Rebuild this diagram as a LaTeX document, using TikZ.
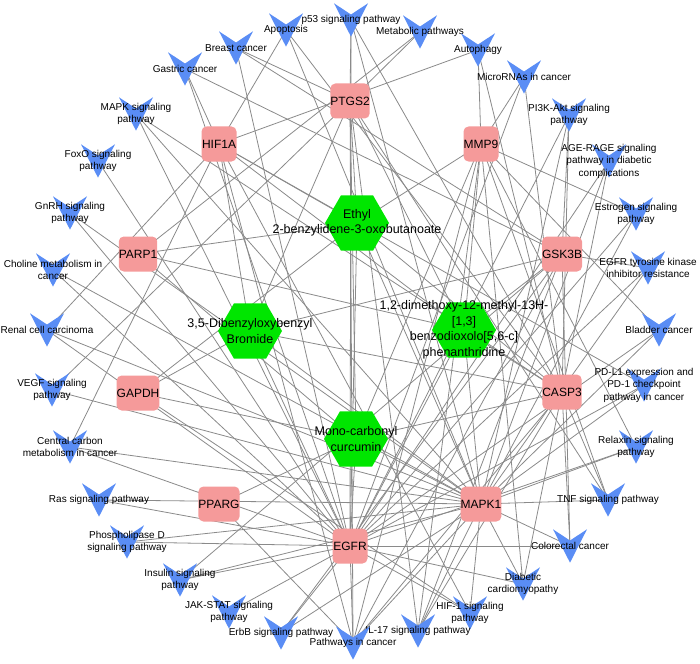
\documentclass[tikz,border=0pt]{standalone}
\usepackage{fontspec}
\setmainfont{Liberation Sans}
\usepackage{xcolor}
\definecolor{targetpink}{HTML}{F59A9A}
\definecolor{druggreen}{HTML}{00E600}
\definecolor{pathblue}{HTML}{5A8DF5}
\definecolor{edgegray}{HTML}{8A8A8A}
\usetikzlibrary{positioning}
\pgfdeclarelayer{background}
\pgfsetlayers{background,main}
\tikzset{
  target/.style={fill=targetpink,rounded corners=5pt,minimum size=35pt,inner sep=0pt,font=\fontsize{12}{14}\selectfont},
  druglabel/.style={align=center,inner sep=0pt,font=\fontsize{12.5}{15.5}\selectfont},
  pwlabel/.style={align=center,inner sep=0pt,font=\fontsize{10}{12.5}\selectfont},
  vshape/.style={fill=pathblue},
  hexshape/.style={fill=druggreen},
  link/.style={draw=edgegray,line width=0.8pt},
}

\begin{document}
\begin{tikzpicture}[x=1pt,y=-1pt]
  \useasboundingbox (0,0) rectangle (700,663);
  % Targets
  \foreach \n/\x/\y in {PTGS2/350/101, HIF1A/219/144, MMP9/481/144, PARP1/138/254, GSK3B/562/254,
                        GAPDH/138/393, CASP3/562/392, PPARG/219/504, MAPK1/481/504, EGFR/350/546}
    \node[target] (\n) at (\x,\y) {\n};
  % Compounds
  \foreach \n/\x/\y/\t in {c1/357/223/{Ethyl\\2-benzylidene-3-oxobutanoate},
                           c2/250/331/{3,5-Dibenzyloxybenzyl\\Bromide},
                           c3/464/330/{1,2-dimethoxy-12-methyl-13H-\\{[1,3]}\\benzodioxolo{[5,6-c]}\\phenanthridine},
                           c4/356/439/{Mono-carbonyl\\curcumin}} {
    \fill[hexshape,shift={(\x,\y)}] (-32,0) -- (-16,-27.7) -- (16,-27.7) -- (32,0) -- (16,27.7) -- (-16,27.7) -- cycle;
    \node[druglabel] (\n) at (\x,\y) {\t};
  }
  % Pathways
  \foreach \n/\x/\y/\t in {p53/351/20/{p53 signaling pathway}, metab/420/32/{Metabolic pathways},
      autoph/478/50/{Autophagy}, mirna/524/77/{MicroRNAs in cancer},
      pi3k/569/115/{PI3K-Akt signaling\\pathway},
      agerage/609/161/{AGE-RAGE signaling\\pathway in diabetic\\complications},
      estro/636/214/{Estrogen signaling\\pathway}, egfrtki/648/268/{EGFR tyrosine kinase\\inhibitor resistance},
      bladder/659/330/{Bladder cancer}, pdl1/644/385/{PD-L1 expression and\\PD-1 checkpoint\\pathway in cancer},
      relax/636/447/{Relaxin signaling\\pathway}, tnf/608/500/{TNF signaling pathway},
      colo/570/546/{Colorectal cancer}, diacard/523/584/{Diabetic\\cardiomyopathy},
      hif1/470/613/{HIF-1 signaling\\pathway}, il17/418/631/{IL-17 signaling pathway},
      pathca/353/643/{Pathways in cancer}, erbb/281/633/{ErbB signaling pathway},
      jak/229/612/{JAK-STAT signaling\\pathway}, insulin/180/580/{Insulin signaling\\pathway},
      pld/127/542/{Phospholipase D\\signaling pathway}, ras/99/500/{Ras signaling pathway},
      ccm/70/447/{Central carbon\\metabolism in cancer}, vegf/52/390/{VEGF signaling\\pathway},
      renal/47/330/{Renal cell carcinoma}, choline/53/270/{Choline metabolism in\\cancer},
      gnrh/70/213/{GnRH signaling\\pathway}, foxo/98/161/{FoxO signaling\\pathway},
      mapksig/136/114/{MAPK signaling\\pathway}, gastric/185/69/{Gastric cancer},
      breast/236/48/{Breast cancer}, apopt/286/30/{Apoptosis}} {
    \fill[vshape,shift={(\x,\y)}] (-17,-16.7) -- (0,-5.5) -- (17,-16.7) -- (0,16.7) -- cycle;
    \node[pwlabel] (\n) at (\x,\y) {\t};
  }
  % Links
  \begin{pgfonlayer}{background}
    \foreach \a/\b in {c1/PTGS2, c1/HIF1A, c1/PARP1, c1/GAPDH, c1/MMP9, c1/CASP3, c1/MAPK1, c1/EGFR,
        c2/HIF1A, c2/PTGS2, c2/GAPDH, c2/CASP3, c2/MAPK1, c2/EGFR, c2/GSK3B,
        c3/PARP1, c3/PTGS2, c3/MMP9, c3/GSK3B, c3/CASP3, c3/MAPK1, c3/EGFR, c3/HIF1A,
        c4/PPARG, c4/EGFR, c4/PARP1, c4/GAPDH, c4/MAPK1, c4/CASP3, c4/MMP9, c4/PTGS2}
      \draw[link] (\a.center) -- (\b.center);
    \foreach \a/\b in {p53/CASP3, p53/MAPK1, p53/EGFR, p53/PTGS2, metab/PTGS2, metab/PARP1,
        autoph/MMP9, autoph/HIF1A, autoph/CASP3, mirna/MMP9, mirna/EGFR, mirna/CASP3,
        pi3k/CASP3, pi3k/MAPK1, pi3k/EGFR, pi3k/GSK3B, agerage/MAPK1, agerage/CASP3, agerage/EGFR,
        estro/MMP9, estro/EGFR, estro/MAPK1, egfrtki/EGFR, egfrtki/MAPK1, egfrtki/GSK3B,
        bladder/EGFR, bladder/MAPK1, bladder/MMP9, pdl1/EGFR, pdl1/MAPK1, pdl1/HIF1A,
        relax/MAPK1, relax/EGFR, relax/MMP9, tnf/MAPK1, tnf/CASP3, tnf/MMP9, tnf/PTGS2,
        colo/EGFR, colo/MAPK1, colo/CASP3, colo/GSK3B, diacard/MAPK1, diacard/EGFR, diacard/CASP3, diacard/MMP9,
        hif1/EGFR, hif1/MAPK1, hif1/HIF1A, hif1/GAPDH, il17/MAPK1, il17/CASP3, il17/GSK3B, il17/PTGS2, il17/MMP9,
        pathca/EGFR, pathca/PTGS2, pathca/MMP9, pathca/CASP3, pathca/MAPK1, pathca/HIF1A, pathca/PPARG, pathca/GSK3B,
        erbb/EGFR, erbb/MAPK1, erbb/GSK3B, jak/EGFR, insulin/EGFR, insulin/MAPK1, insulin/GSK3B,
        pld/EGFR, pld/MAPK1, ras/EGFR, ras/MAPK1, ccm/HIF1A, ccm/EGFR, ccm/MAPK1, vegf/PTGS2, vegf/MAPK1,
        renal/HIF1A, renal/MAPK1, renal/EGFR, choline/MAPK1, choline/EGFR, gnrh/MAPK1, gnrh/EGFR, foxo/EGFR,
        mapksig/CASP3, mapksig/EGFR, mapksig/MAPK1, gastric/HIF1A, gastric/GSK3B, gastric/EGFR,
        breast/PTGS2, breast/EGFR, breast/GSK3B, apopt/HIF1A, apopt/MAPK1, apopt/CASP3}
      \draw[link] (\a.center) -- (\b.center);
  \end{pgfonlayer}
\end{tikzpicture}
\end{document}
